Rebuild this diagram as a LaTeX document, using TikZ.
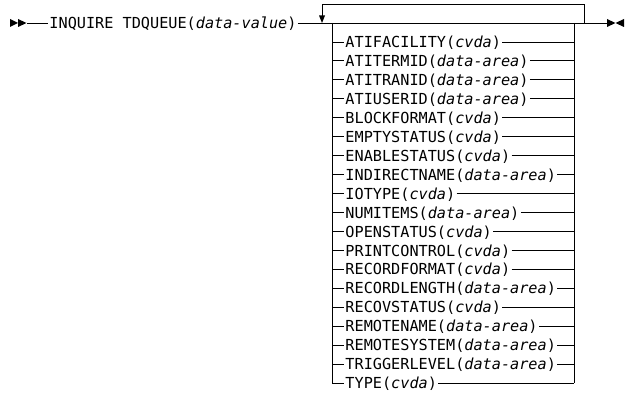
\documentclass[tikz,border=0pt]{standalone}
\usepackage{fontspec}
\setmonofont{DejaVu Sans Mono}
\begin{document}
\begin{tikzpicture}[x=1pt,y=-1pt,line width=0.9pt,
  lbl/.style={font=\fontsize{15.2}{18}\selectfont\ttfamily, inner ysep=0pt, inner xsep=1pt, anchor=base west},
  tipfill/.style={fill=black, draw=none}]
\useasboundingbox (0,0) rectangle (625,395);
% start marker
\coordinate (S) at (27,23);
\fill[tipfill] (10,19) -- (18,23) -- (10,27) -- cycle;
\fill[tipfill] (18,19) -- (26.5,23) -- (18,27) -- cycle;
% title
\node[lbl] (title) at (48,28.6) {INQUIRE TDQUEUE(\textit{data-value})};
\draw (S) -- (S -| title.west);
% end marker
\coordinate (E) at (607,23);
\draw (title.east |- E) -- (E);
\fill[tipfill] (607,19) -- (615.5,23) -- (607,27) -- cycle;
\fill[tipfill] (624,19) -- (615.5,23) -- (624,27) -- cycle;
% repeat loop
\coordinate (LT) at (322,4);
\coordinate (LA) at (322,23);
\coordinate (RT) at (584,4);
\coordinate (RB) at (584,23);
\draw (RB) -- (RT) -- (LT) -- (322,16);
\fill[tipfill] (319,15.5) -- (325,15.5) -- (LA) -- cycle;
% box columns
\coordinate (BL) at (332,23);
\coordinate (BR) at (574,23);
\foreach \t/\a [count=\i] in {ATIFACILITY/cvda, ATITERMID/data-area, ATITRANID/data-area, ATIUSERID/data-area, BLOCKFORMAT/cvda, EMPTYSTATUS/cvda, ENABLESTATUS/cvda, INDIRECTNAME/data-area, IOTYPE/cvda, NUMITEMS/data-area, OPENSTATUS/cvda, PRINTCONTROL/cvda, RECORDFORMAT/cvda, RECORDLENGTH/data-area, RECOVSTATUS/cvda, REMOTENAME/data-area, REMOTESYSTEM/data-area, TRIGGERLEVEL/data-area, TYPE/cvda} {
  \pgfmathsetmacro\yy{42+(\i-1)*18.95}
  \coordinate (L\i) at (332,\yy);
  \coordinate (R\i) at (574,\yy);
  \node[lbl] (o\i) at (344,\yy+5.6) {\t(\textit{\a})};
  \draw (L\i) -- (L\i -| o\i.west);
  \draw (o\i.east |- R\i) -- (R\i);
}
\draw (BL) -- (L19);
\draw (BR) -- (R19);
\end{tikzpicture}
\end{document}
